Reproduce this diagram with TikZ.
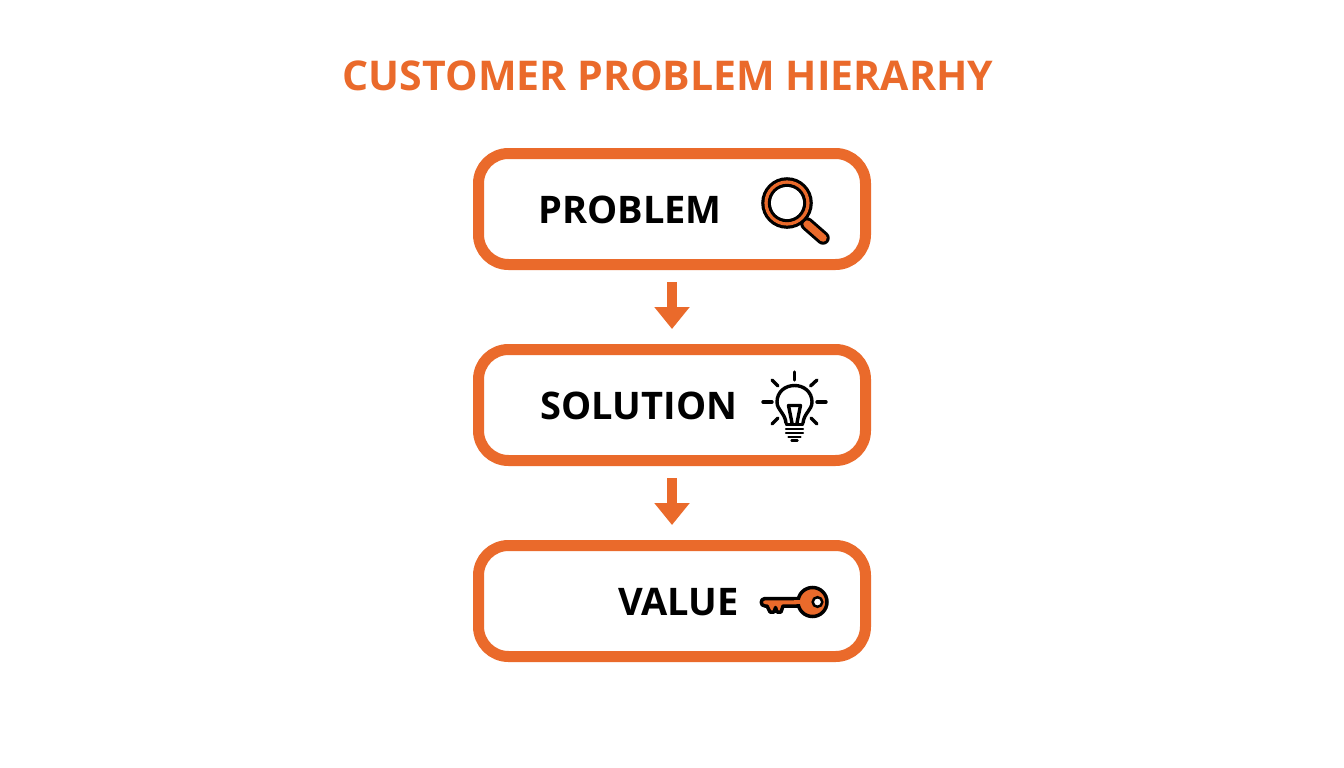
\documentclass[tikz,border=0pt]{standalone}
\usepackage{fontspec}
\setmainfont{Open Sans}
\usetikzlibrary{positioning}
\usetikzlibrary{arrows.meta}
\usetikzlibrary{calc}
\definecolor{brandorange}{HTML}{EA6A2B}

\tikzset{
  levelbox/.style={draw=brandorange, line width=11pt, rounded corners=30pt, fill=white,
    minimum width=387pt, minimum height=111pt, inner sep=0pt},
  leveltext/.style={font=\fontsize{38}{45}\selectfont\bfseries, text=black, inner sep=0pt, anchor=east},
  levelarrow/.style={draw=brandorange, line width=10pt,
    -{Triangle[width=34pt,length=22pt]}, shorten <=12pt, shorten >=15pt},
  iconline/.style={draw=black, line width=3.4pt, line cap=round, line join=round},
  baseline/.style={draw=black, line width=2.4pt, line cap=round},
}

\begin{document}
\begin{tikzpicture}[x=1pt,y=-1pt]

  \useasboundingbox (0,0) rectangle (1344,768);
  \fill[white] (0,0) rectangle (1344,768);

  \node[font=\fontsize{41}{48}\selectfont\bfseries, text=brandorange, inner sep=0pt] (title) at (668,76) {CUSTOMER PROBLEM HIERARHY};

  % The three levels
  \node[levelbox] (problem) at (672,209) {};
  \node[levelbox, below=74pt of problem] (solution) {};
  \node[levelbox, below=74pt of solution] (value) {};

  \draw[levelarrow] (problem) -- (solution);
  \draw[levelarrow] (solution) -- (value);

  \node[leveltext] (problemtext) at (722,210) {PROBLEM};
  \node[leveltext] (solutiontext) at (737.5,406) {SOLUTION};
  \node[leveltext] (valuetext) at (739,602) {VALUE};

  % Magnifying glass
  \coordinate (L) at (787,203);
  \draw[black, line width=13.5pt, line cap=round] (807,224) -- (823,238);
  \draw[brandorange, line width=7.5pt, line cap=round] (807,224) -- (823,238);
  \fill[black] (L) circle (25.8);
  \fill[brandorange] (L) circle (22.6);
  \fill[black] (L) circle (19.2);
  \fill[white] (L) circle (16);

  % Light bulb
  \foreach \xa/\ya/\xb/\yb in {794.5/372/794.5/380, 763/402/772/402, 817/402/826/402,
    772/380/778/386, 817/380/810.5/386, 772/424/778/418, 817/424/811/418} {
    \draw[iconline] (\xa,\ya) -- (\xb,\yb);
  }
  \draw[iconline] (786,423) .. controls (785,413) and (777,410) .. (777,402)
    .. controls (777,392) and (785,385.5) .. (794.5,385.5)
    .. controls (804,385.5) and (812,392) .. (812,402)
    .. controls (812,410) and (804,413) .. (803,423);
  \draw[iconline] (792,423) -- (788.5,405.5) -- (800.5,405.5) -- (797,423);
  \draw[baseline] (786,424.5) -- (803,424.5);
  \draw[baseline] (786,428.8) -- (803,428.8);
  \draw[baseline] (786,433) -- (803,433);
  \draw[baseline] (788.5,437) -- (800.5,437);
  \draw[baseline] (791.5,440.5) -- (797.5,440.5);

  % Key
  \coordinate (K) at (812.5,602);
  \draw[draw=black, fill=brandorange, line width=3.5pt, line join=round]
    (765,598.5) -- (800,598.5) -- (800,606) -- (783,606) -- (781,612) -- (777,612)
    -- (775.5,607.5) -- (774,612) -- (770,612) -- (767,606) -- (765,606)
    .. controls (760,606) and (760,598.5) .. (765,598.5) -- cycle;
  \draw[draw=black, fill=brandorange, line width=3.5pt] (K) circle (14.5);
  \fill[brandorange] (794,600.3) rectangle (801,604.2);
  \draw[draw=black, fill=white, line width=2.5pt] (817.5,602) circle (4.8);

\end{tikzpicture}
\end{document}
